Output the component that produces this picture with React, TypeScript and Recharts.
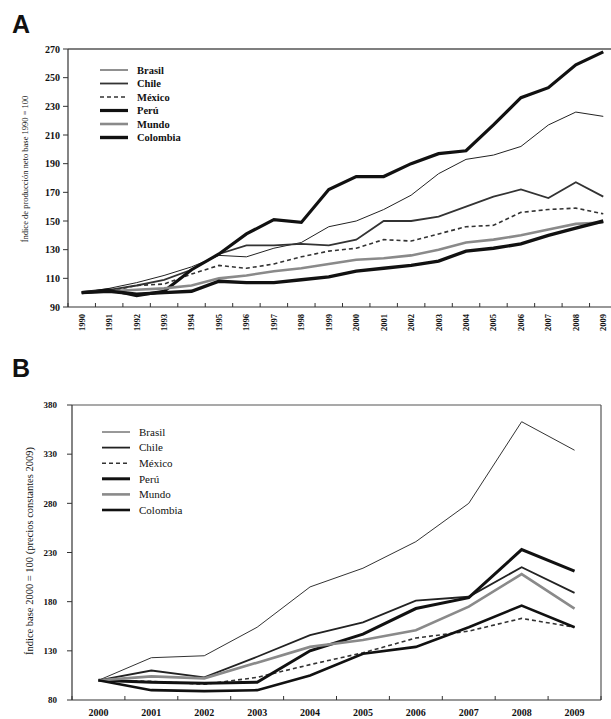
import { LineChart, Line, XAxis, YAxis, ReferenceLine, Legend } from 'recharts';

// Panel A: índice de producción neto, base 1990 = 100
const yearsA = [
  '1990', '1991', '1992', '1993', '1994', '1995', '1996', '1997', '1998', '1999',
  '2000', '2001', '2002', '2003', '2004', '2005', '2006', '2007', '2008', '2009',
];
const brasilA = [100, 103, 107, 112, 118, 126, 125, 131, 135, 146, 150, 158, 168, 183, 193, 196, 202, 217, 226, 223];
const chileA = [100, 102, 105, 109, 116, 127, 133, 133, 134, 133, 137, 150, 150, 153, 160, 167, 172, 166, 177, 167];
const mexicoA = [100, 101, 105, 106, 113, 119, 117, 120, 125, 129, 131, 137, 136, 141, 146, 147, 156, 158, 159, 155];
const peruA = [100, 102, 98, 101, 116, 127, 141, 151, 149, 172, 181, 181, 190, 197, 199, 217, 236, 243, 259, 268];
const mundoA = [100, 101, 102, 103, 105, 110, 112, 115, 117, 120, 123, 124, 126, 130, 135, 137, 140, 144, 148, 149];
const colombiaA = [100, 101, 99, 100, 101, 108, 107, 107, 109, 111, 115, 117, 119, 122, 129, 131, 134, 140, 145, 150];
const yTicksA = [90, 110, 130, 150, 170, 190, 210, 230, 250, 270];

// Panel B: índice base 2000 = 100 (precios constantes 2009)
const yearsB = ['2000', '2001', '2002', '2003', '2004', '2005', '2006', '2007', '2008', '2009'];
const brasilB = [100, 123, 125, 154, 195, 214, 241, 280, 363, 334];
const chileB = [100, 110, 103, 124, 146, 159, 181, 185, 215, 189];
const mexicoB = [100, 99, 96, 103, 116, 128, 143, 150, 163, 154];
const peruB = [100, 98, 97, 98, 130, 147, 173, 184, 233, 211];
const mundoB = [100, 104, 102, 118, 134, 141, 151, 175, 208, 173];
const colombiaB = [100, 90, 89, 90, 105, 127, 134, 154, 176, 154];
const yTicksB = [80, 130, 180, 230, 280, 330, 380];

const names = ['Brasil', 'Chile', 'México', 'Perú', 'Mundo', 'Colombia'];

type LineStyle = { stroke: string; width: number; dash?: string };

const styleA: LineStyle[] = [
  { stroke: '#222', width: 1 },
  { stroke: '#333', width: 1.8 },
  { stroke: '#333', width: 1.6, dash: '4 3' },
  { stroke: '#111', width: 3.2 },
  { stroke: '#8a8a8a', width: 2.6 },
  { stroke: '#111', width: 3.4 },
];

const styleB: LineStyle[] = [
  { stroke: '#333', width: 1 },
  { stroke: '#222', width: 1.8 },
  { stroke: '#333', width: 1.6, dash: '4 3' },
  { stroke: '#111', width: 3 },
  { stroke: '#8a8a8a', width: 2.6 },
  { stroke: '#111', width: 2.6 },
];

const SERIF = '"Liberation Serif", "DejaVu Serif", serif';
const SANS = '"Liberation Sans", Arial, sans-serif';

function toRows(years: string[], cols: number[][]) {
  return years.map((year, i) => {
    const row: Record<string, number | string> = { i, year };
    names.forEach((n, k) => {
      row[n] = cols[k][i];
    });
    return row;
  });
}

const rowsA = toRows(yearsA, [brasilA, chileA, mexicoA, peruA, mundoA, colombiaA]);
const rowsB = toRows(yearsB, [brasilB, chileB, mexicoB, peruB, mundoB, colombiaB]);

// category centres get labels, the half steps between them get a small inward tick
function xTicks(n: number) {
  const t: number[] = [];
  for (let k = -0.5; k <= n - 0.5; k += 0.5) t.push(k);
  return t;
}

function yearTick(years: string[], margin: number, rotate: boolean, fontSize: number) {
  return (props: any) => {
    const { x, y, payload } = props;
    const v = payload.value as number;
    if (!Number.isInteger(v)) {
      const axisY = y - margin;
      return <line x1={x} x2={x} y1={axisY} y2={axisY - 4} stroke="#333" strokeWidth={1} />;
    }
    if (rotate) {
      return (
        <text
          x={x}
          y={y}
          transform={`rotate(-90 ${x} ${y})`}
          textAnchor="end"
          dy="0.35em"
          fontSize={fontSize}
          fontWeight={700}
          fontFamily={SERIF}
          fill="#111"
        >
          {years[v]}
        </text>
      );
    }
    return (
      <text x={x} y={y} dy="0.71em" textAnchor="middle" fontSize={fontSize} fontWeight={700} fontFamily={SERIF} fill="#111">
        {years[v]}
      </text>
    );
  };
}

function legendContent(styles: LineStyle[], rowGap: number, fontSize: number, bold: boolean) {
  return () => (
    <svg width={110} height={rowGap * names.length + 4} style={{ display: 'block' }}>
      {names.map((n, k) => {
        const cy = 6 + k * rowGap;
        const s = styles[k];
        return (
          <g key={n}>
            <line x1={0} x2={28} y1={cy} y2={cy} stroke={s.stroke} strokeWidth={s.width} strokeDasharray={s.dash} />
            <text x={37} y={cy} dy="0.35em" fontSize={fontSize} fontWeight={bold ? 700 : 400} fontFamily={SERIF} fill="#111">
              {n}
            </text>
          </g>
        );
      })}
    </svg>
  );
}

function AxisTitle({ text, cx, cy, size }: { text: string; cx: number; cy: number; size: number }) {
  return (
    <div style={{ position: 'absolute', left: cx, top: cy, width: 0, height: 0 }}>
      <span
        style={{
          position: 'absolute',
          left: 0,
          top: 0,
          transform: 'translate(-50%, -50%) rotate(-90deg)',
          whiteSpace: 'nowrap',
          fontFamily: SERIF,
          fontSize: size,
          color: '#111',
          lineHeight: 1,
        }}
      >
        {text}
      </span>
    </div>
  );
}

function PanelLetter({ letter, top }: { letter: string; top: number }) {
  return (
    <div
      style={{
        position: 'absolute',
        left: 12,
        top,
        fontFamily: SANS,
        fontWeight: 700,
        fontSize: 25,
        lineHeight: '25px',
        color: '#111',
      }}
    >
      {letter}
    </div>
  );
}

export default function App() {
  return (
    <div
      style={{
        position: 'absolute',
        left: 0,
        top: 0,
        width: 611,
        height: 719,
        overflow: 'hidden',
        background: '#fff',
      }}
    >
      <PanelLetter letter="A" top={12} />
      <AxisTitle text="Índice de producción neto base 1990 = 100" cx={25} cy={169} size={8.5} />
      <div style={{ position: 'absolute', left: 0, top: 0 }}>
        <LineChart width={625} height={345} data={rowsA} margin={{ top: 49, right: 8, left: 0, bottom: 8 }}>
          <XAxis
            type="number"
            dataKey="i"
            domain={[-0.5, yearsA.length - 0.5]}
            ticks={xTicks(yearsA.length)}
            interval={0}
            tickSize={0}
            tickMargin={7}
            height={30}
            axisLine={{ stroke: '#333', strokeWidth: 1.2 }}
            tickLine={false}
            tick={yearTick(yearsA, 7, true, 8.5)}
          />
          <YAxis
            type="number"
            domain={[90, 270]}
            ticks={yTicksA}
            interval={0}
            width={68}
            tickSize={5}
            tickMargin={3}
            axisLine={{ stroke: '#333', strokeWidth: 1.2 }}
            tickLine={{ stroke: '#333' }}
            tick={{ fontSize: 10, fontWeight: 700, fill: '#111', fontFamily: SERIF }}
          />
          <ReferenceLine y={270} stroke="#555" strokeWidth={1.5} />
          <Legend
            layout="vertical"
            align="center"
            verticalAlign="middle"
            wrapperStyle={{ left: 100, top: 64 }}
            content={legendContent(styleA, 13.5, 10.5, true)}
          />
          {names.map((n, k) => (
            <Line
              key={n}
              type="linear"
              dataKey={n}
              stroke={styleA[k].stroke}
              strokeWidth={styleA[k].width}
              strokeDasharray={styleA[k].dash}
              dot={false}
              activeDot={false}
              isAnimationActive={false}
            />
          ))}
        </LineChart>
      </div>

      <PanelLetter letter="B" top={356} />
      <AxisTitle text="Índice base 2000 = 100 (precios constantes 2009)" cx={30} cy={551} size={10.5} />
      <div style={{ position: 'absolute', left: 0, top: 350 }}>
        <LineChart width={611} height={369} data={rowsB} margin={{ top: 55, right: 10, left: 0, bottom: 0 }}>
          <XAxis
            type="number"
            dataKey="i"
            domain={[-0.5, yearsB.length - 0.5]}
            ticks={xTicks(yearsB.length)}
            interval={0}
            tickSize={0}
            tickMargin={9}
            height={19}
            axisLine={{ stroke: '#333', strokeWidth: 1.2 }}
            tickLine={false}
            tick={yearTick(yearsB, 9, false, 10)}
          />
          <YAxis
            type="number"
            domain={[80, 380]}
            ticks={yTicksB}
            interval={0}
            width={72}
            tickSize={5}
            tickMargin={10}
            axisLine={{ stroke: '#333', strokeWidth: 1.2 }}
            tickLine={{ stroke: '#333' }}
            tick={{ fontSize: 9, fontWeight: 700, fill: '#111', fontFamily: SERIF }}
          />
          <ReferenceLine y={380} stroke="#555" strokeWidth={1.2} />
          <ReferenceLine x={yearsB.length - 0.5} stroke="#555" strokeWidth={1.2} />
          <Legend
            layout="vertical"
            align="center"
            verticalAlign="middle"
            wrapperStyle={{ left: 102, top: 76 }}
            content={legendContent(styleB, 15.6, 11, false)}
          />
          {names.map((n, k) => (
            <Line
              key={n}
              type="linear"
              dataKey={n}
              stroke={styleB[k].stroke}
              strokeWidth={styleB[k].width}
              strokeDasharray={styleB[k].dash}
              dot={false}
              activeDot={false}
              isAnimationActive={false}
            />
          ))}
        </LineChart>
      </div>
    </div>
  );
}
